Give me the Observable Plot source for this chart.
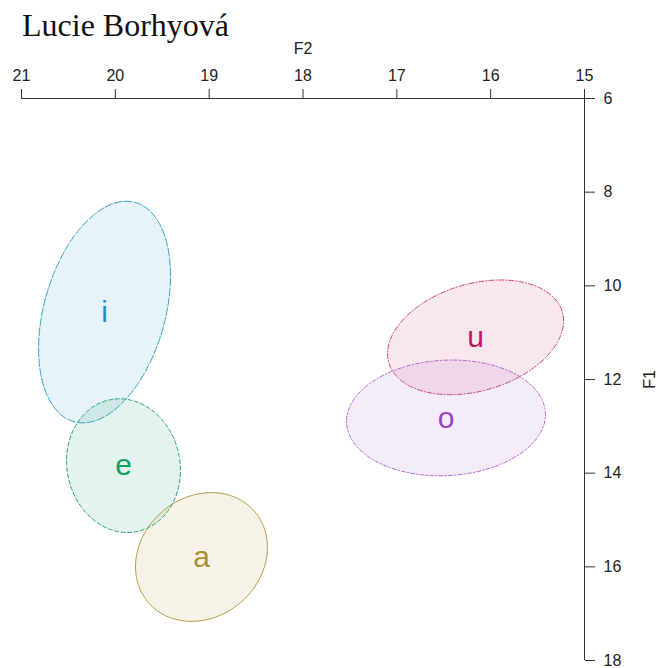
<!DOCTYPE html>
<html><head><meta charset="utf-8">
<script src="https://cdn.jsdelivr.net/npm/d3@7"></script>
<script src="https://cdn.jsdelivr.net/npm/@observablehq/plot@0.6"></script>
<style>
body{margin:0;background:#fff;}
#title{height:40px;font:32px "Liberation Serif","Times New Roman",serif;line-height:50px;padding-left:22px;white-space:nowrap;color:#111;overflow:visible;}
#chart svg{display:block;}
</style></head><body>
<div id="title">Lucie Borhyová</div>
<div id="chart"></div>
<script>
// vowel ellipses: centre (F2, F1), half-extent along each axis, correlation
const vowels = ["i", "e", "a", "o", "u"];
const meanF2 = [20.115, 19.913, 19.082, 16.476, 16.161];
const meanF1 = [10.56, 13.84, 15.79, 12.82, 11.10];
const spreadF2 = [0.703, 0.607, 0.703, 1.06, 0.938];
const spreadF1 = [2.366, 1.428, 1.375, 1.236, 1.225];
const corr = [0.33, -0.07, 0.15, 0.06, 0.285];
const strokeColors = ["#3aa3c8", "#27a673", "#b89e45", "#b46ad6", "#cc4a7a"];
const labelColors = ["#1f8fc2", "#12a062", "#a8912c", "#a040c8", "#c0185a"];
const dashes = ["8,2", "4,2.5", null, "1.5,2,4,2", "5,2,1,2"];
const xTicks = [21, 20, 19, 18, 17, 16, 15];
const yTicks = [6, 8, 10, 12, 14, 16, 18];

const angles = d3.range(0, 361, 3).map(d => d * Math.PI / 180);
function outline(k) {
  const r = corr[k], s = Math.sqrt(1 - r * r);
  return angles.map(a => ({
    vowel: vowels[k],
    F2: meanF2[k] + spreadF2[k] * Math.cos(a),
    F1: meanF1[k] + spreadF1[k] * (r * Math.cos(a) + s * Math.sin(a))
  }));
}

const ellipseMarks = vowels.map((v, k) => Plot.line(outline(k), {
  x: "F2", y: "F1", curve: "linear-closed",
  stroke: strokeColors[k], strokeWidth: 1,
  strokeDasharray: dashes[k] || undefined,
  fill: strokeColors[k], fillOpacity: 0.13
}));

const labelMarks = vowels.map((v, k) => Plot.text([{v, F2: meanF2[k], F1: meanF1[k]}], {
  x: "F2", y: "F1", text: "v", fill: labelColors[k], fontSize: 30
}));

const chart = Plot.plot({
  width: 660, height: 628,
  marginTop: 58, marginRight: 76, marginBottom: 8, marginLeft: 21,
  style: {fontFamily: "'Liberation Sans', Arial, sans-serif", fontSize: "16px", color: "#222", background: "#fff", overflow: "visible"},
  x: {domain: [21, 15]},
  y: {domain: [6, 18], reverse: true},
  marks: [
    ...ellipseMarks,
    ...labelMarks,
    Plot.ruleY([6], {stroke: "#333"}),
    Plot.ruleX([15], {stroke: "#333"}),
    Plot.axisX({anchor: "top", ticks: xTicks, tickFormat: "d", tickSize: 10, tickPadding: 8, stroke: "#333", fontSize: 16,
      label: "F2", labelAnchor: "center", labelOffset: 56, labelArrow: "none"}),
    Plot.axisY({anchor: "right", ticks: yTicks, tickFormat: "d", tickSize: 10, tickPadding: 9, stroke: "#333", fontSize: 16,
      label: "F1", labelAnchor: "center", labelOffset: 70, labelArrow: "none"})
  ]
});
document.getElementById("chart").appendChild(chart);
</script>
</body></html>
